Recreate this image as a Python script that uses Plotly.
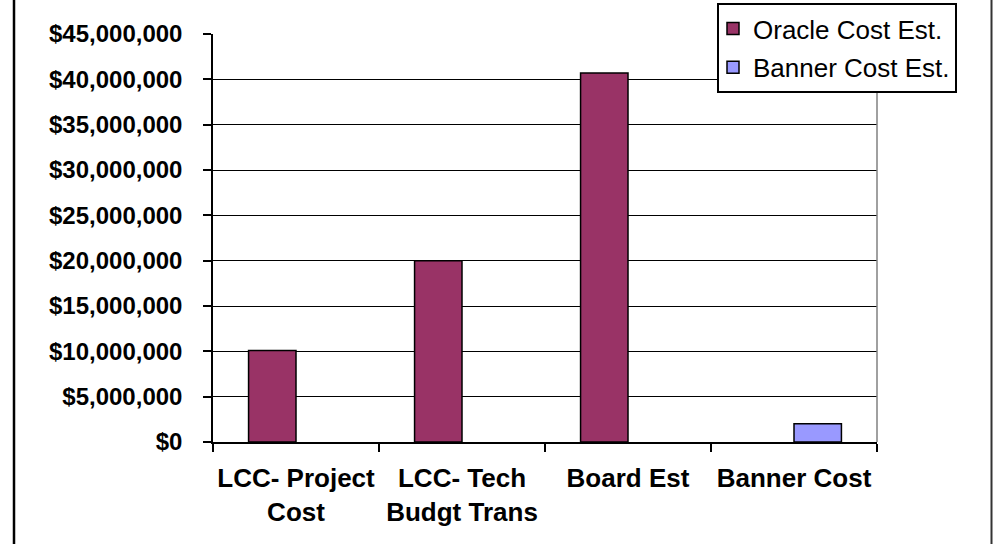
import plotly.graph_objects as go

categories = ["LCC- Project<br>Cost", "LCC- Tech<br>Budgt Trans", "Board Est", "Banner Cost"]
oracle_cost = [10100000, 20000000, 40700000, None]
banner_cost = [None, None, None, 2000000]
y_ticks = [0, 5000000, 10000000, 15000000, 20000000, 25000000, 30000000, 35000000, 40000000, 45000000]

FONT = "Liberation Sans, Arial, sans-serif"

fig = go.Figure()
fig.add_trace(go.Bar(name="Oracle Cost Est.", x=categories, y=oracle_cost, legendgroup="a",
                     marker=dict(color="#993366", line=dict(color="black", width=1.5))))
fig.add_trace(go.Bar(name="Banner Cost Est.", x=categories, y=banner_cost, legendgroup="b",
                     marker=dict(color="#9999FF", line=dict(color="black", width=1.5))))

L, R, T, B = 213, 877, 34, 442
W, H = 993, 544
pw, ph = R - L, B - T

def px(x):
    return (x - L) / pw

def py(y):
    return (B - y) / ph

fig.update_layout(
    width=W, height=H,
    margin=dict(l=L, r=W - R, t=T, b=H - B, pad=0, autoexpand=False),
    paper_bgcolor="white", plot_bgcolor="white",
    barmode="group", bargap=1.5 / 3.5, bargroupgap=0,
    font=dict(family=FONT, color="black"),
    legend=dict(x=px(717), y=py(3), xanchor="left", yanchor="top",
                bgcolor="white", bordercolor="black", borderwidth=2,
                tracegroupgap=2, indentation=-6,
                font=dict(family=FONT, size=26, color="black")),
    xaxis=dict(showline=True, linecolor="black", linewidth=1.5,
               ticks="outside", ticklen=8, tickcolor="black", tickwidth=1.5,
               tickson="boundaries", showgrid=False, automargin=False, tickangle=0,
               tickfont=dict(family=FONT, size=26, weight="bold", color="black"),
               ticklabelstandoff=12),
    yaxis=dict(range=[0, 45000000], tickvals=y_ticks, tickformat="$,.0f",
               showline=True, linecolor="black", linewidth=1.5,
               ticks="outside", ticklen=8, tickcolor="black", tickwidth=1.5,
               showgrid=True, gridcolor="black", gridwidth=1, zeroline=False,
               automargin=False,
               tickfont=dict(family=FONT, size=24, weight="bold", color="black"),
               ticklabelstandoff=16),
    shapes=[
        dict(type="line", xref="paper", yref="paper", x0=1, x1=1, y0=0, y1=1,
             line=dict(color="#808080", width=1.5)),
        dict(type="line", xref="paper", yref="paper", x0=px(14), x1=px(14), y0=py(H), y1=py(0),
             line=dict(color="black", width=2.5)),
        dict(type="line", xref="paper", yref="paper", x0=px(991.5), x1=px(991.5), y0=py(H), y1=py(0),
             line=dict(color="#333333", width=2)),
    ],
)

fig.write_html("out.html", config={"displayModeBar": False},
               post_script="document.body.style.margin='0';")
